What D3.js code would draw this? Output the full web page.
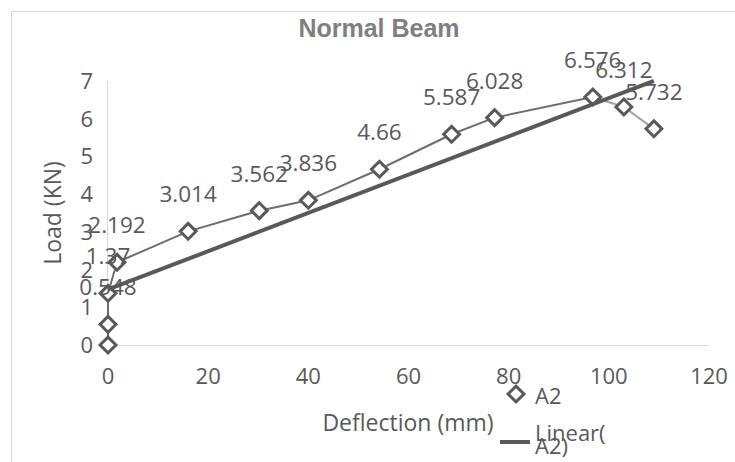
<!DOCTYPE html>
<html>
<head>
<meta charset="utf-8">
<script src="https://cdn.jsdelivr.net/npm/d3@7"></script>
<style>
  html, body { margin: 0; padding: 0; background: #fff; }
  svg { display: block; font-family: "Open Sans", "Liberation Sans", sans-serif; }
  .tick-label { fill: #595959; font-size: 22px; }
  .data-label { fill: #595959; font-size: 22.5px; }
  .axis-title { fill: #595959; font-size: 23px; }
  .chart-title { fill: #7f7f7f; font-size: 25px; font-weight: bold; font-family: "Liberation Sans", Arial, sans-serif; }
</style>
</head>
<body>
<div id="chart"></div>
<script>
const deflection = [0, 0, 0, 1.8, 16, 30.2, 40, 54.2, 68.6, 77.2, 96.8, 103, 109];
const load = [0, 0.548, 1.37, 2.192, 3.014, 3.562, 3.836, 4.66, 5.587, 6.028, 6.576, 6.312, 5.732];
const labels = ["", "0.548", "1.37", "2.192", "3.014", "3.562", "3.836", "4.66", "5.587", "6.028", "6.576", "6.312", "5.732"];
const xTicks = [0, 20, 40, 60, 80, 100, 120];
const yTicks = [0, 1, 2, 3, 4, 5, 6, 7];
const legendNames = ["A2", "Linear(", "A2)"];

const width = 735;
const height = 462;

function renderChart() {
  const svg = d3.select("#chart").append("svg").attr("width", width).attr("height", height);

  const x = d3.scaleLinear().domain([0, 120]).range([108, 709]);
  const y = d3.scaleLinear().domain([0, 7]).range([345, 81]);

  const points = deflection.map((d, i) => ({ x: d, y: load[i], label: labels[i] }));

  // chart frame (cut off on the right and bottom)
  svg.append("rect")
    .attr("x", 11.5).attr("y", 11.5)
    .attr("width", width).attr("height", height)
    .attr("fill", "none").attr("stroke", "#d9d9d9");

  svg.append("text")
    .attr("class", "chart-title")
    .attr("x", 379).attr("y", 37)
    .attr("text-anchor", "middle")
    .text("Normal Beam");

  // axis lines
  svg.append("line")
    .attr("x1", x(0)).attr("x2", x(120))
    .attr("y1", y(0) + 0.5).attr("y2", y(0) + 0.5)
    .attr("stroke", "#d9d9d9");
  svg.append("line")
    .attr("x1", x(0) - 0.5).attr("x2", x(0) - 0.5)
    .attr("y1", y(7)).attr("y2", y(0))
    .attr("stroke", "#d9d9d9");

  svg.selectAll(".x-tick")
    .data(xTicks)
    .join("text")
    .attr("class", "tick-label x-tick")
    .attr("x", (d) => x(d))
    .attr("y", 384)
    .attr("text-anchor", "middle")
    .text((d) => d);

  svg.selectAll(".y-tick")
    .data(yTicks)
    .join("text")
    .attr("class", "tick-label y-tick")
    .attr("x", 93)
    .attr("y", (d) => y(d) + 8)
    .attr("text-anchor", "end")
    .text((d) => d);

  svg.append("text")
    .attr("class", "axis-title")
    .attr("x", 408).attr("y", 431)
    .attr("text-anchor", "middle")
    .text("Deflection (mm)");

  svg.append("text")
    .attr("class", "axis-title")
    .attr("transform", "translate(61,213) rotate(-90)")
    .attr("text-anchor", "middle")
    .text("Load (KN)");

  const line = d3.line().x((d) => x(d.x)).y((d) => y(d.y));

  // series line: the last two segments are drawn lighter in the original
  svg.append("path")
    .attr("d", line(points.slice(0, 11)))
    .attr("fill", "none").attr("stroke", "#6e6e6e").attr("stroke-width", 2);
  svg.append("path")
    .attr("d", line(points.slice(10)))
    .attr("fill", "none").attr("stroke", "#a6a6a6").attr("stroke-width", 2);

  const diamond = d3.symbol().type(d3.symbolDiamond2).size(160);

  svg.selectAll(".marker")
    .data(points)
    .join("path")
    .attr("class", "marker")
    .attr("transform", (d) => `translate(${x(d.x)},${y(d.y)})`)
    .attr("d", diamond)
    .attr("fill", "#fff")
    .attr("stroke", "#595959")
    .attr("stroke-width", 3);

  // linear trendline (least squares, like Excel)
  const mx = d3.mean(deflection);
  const my = d3.mean(load);
  const sxy = d3.sum(deflection, (d, i) => (d - mx) * (load[i] - my));
  const sxx = d3.sum(deflection, (d) => (d - mx) * (d - mx));
  const slope = sxy / sxx;
  const intercept = my - slope * mx;
  const [x0, x1] = d3.extent(deflection);
  svg.append("line")
    .attr("x1", x(x0)).attr("y1", y(intercept + slope * x0))
    .attr("x2", x(x1)).attr("y2", y(intercept + slope * x1))
    .attr("stroke", "#595959").attr("stroke-width", 4);

  svg.selectAll(".data-label")
    .data(points.filter((d) => d.label))
    .join("text")
    .attr("class", "data-label")
    .attr("x", (d) => x(d.x))
    .attr("y", (d) => y(d.y) - 29)
    .attr("text-anchor", "middle")
    .text((d) => d.label);

  // legend
  const legend = svg.append("g");
  legend.append("path")
    .attr("transform", "translate(516,394)")
    .attr("d", diamond)
    .attr("fill", "#fff").attr("stroke", "#595959").attr("stroke-width", 3);
  legend.append("text").attr("class", "tick-label").attr("x", 535).attr("y", 404).text(legendNames[0]);
  legend.append("line")
    .attr("x1", 500).attr("x2", 530).attr("y1", 442).attr("y2", 442)
    .attr("stroke", "#595959").attr("stroke-width", 4);
  legend.append("text").attr("class", "tick-label").attr("x", 535).attr("y", 441).text(legendNames[1]);
  legend.append("text").attr("class", "tick-label").attr("x", 535).attr("y", 454).text(legendNames[2]);
}

renderChart();
</script>
</body>
</html>
